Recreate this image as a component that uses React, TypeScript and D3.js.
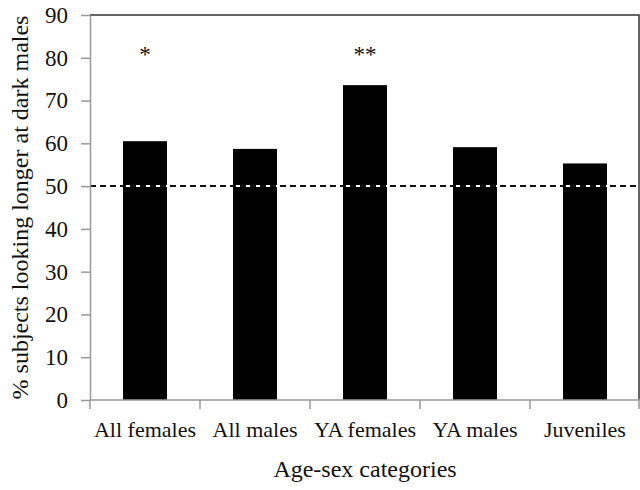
import React, { useEffect, useRef } from "react";
import * as d3 from "d3";

const categories = ["All females", "All males", "YA females", "YA males", "Juveniles"];
const percentLookingDark = [60.5, 58.7, 73.6, 59.1, 55.3];
const significance = ["*", "", "**", "", ""];
const yTicks = [0, 10, 20, 30, 40, 50, 60, 70, 80, 90];
const chanceLevel = 50;
const starLevel = 79;

const FONT = "\"Liberation Serif\", \"DejaVu Serif\", \"Noto Serif\", \"Times New Roman\", Times, serif";

export default function App() {
  const ref = useRef<SVGSVGElement>(null);

  useEffect(() => {
    const svg = d3.select(ref.current);
    svg.selectAll("*").remove();

    const width = 640;
    const height = 490;
    const margin = { top: 15, right: 0, bottom: 90, left: 90 };
    const innerW = width - margin.left - margin.right;
    const innerH = height - margin.top - margin.bottom;

    const x = d3.scaleBand().domain(categories).range([0, innerW]).paddingInner(0).paddingOuter(0);
    const y = d3.scaleLinear().domain([0, 90]).range([innerH, 0]);

    const g = svg.append("g").attr("transform", `translate(${margin.left},${margin.top})`);

    // bars, 40% of the band
    const barW = x.bandwidth() * 0.4;
    g.selectAll(".bar")
      .data(categories)
      .join("rect")
      .attr("class", "bar")
      .attr("x", (d) => x(d)! + (x.bandwidth() - barW) / 2)
      .attr("y", (d, i) => y(percentLookingDark[i]))
      .attr("width", barW)
      .attr("height", (d, i) => innerH - y(percentLookingDark[i]))
      .attr("fill", "#000");

    // chance line: white under black dashes so it shows on the bars too
    g.append("line")
      .attr("x1", 0)
      .attr("x2", innerW)
      .attr("y1", y(chanceLevel))
      .attr("y2", y(chanceLevel))
      .attr("stroke", "#fff")
      .attr("stroke-width", 2);
    g.append("line")
      .attr("x1", 0)
      .attr("x2", innerW)
      .attr("y1", y(chanceLevel))
      .attr("y2", y(chanceLevel))
      .attr("stroke", "#111")
      .attr("stroke-width", 2)
      .attr("stroke-dasharray", "6,4");

    // frame top + right
    g.append("path")
      .attr("d", `M0,${y(90)}H${innerW - 1}V${innerH}`)
      .attr("fill", "none")
      .attr("stroke", "#333")
      .attr("stroke-width", 1.5);

    // y axis
    const yAxis = g
      .append("g")
      .call(d3.axisLeft(y).tickValues(yTicks).tickSize(9).tickSizeOuter(0).tickPadding(13).tickFormat(d3.format("d")));
    yAxis.attr("font-family", null).attr("font-size", null);
    yAxis.select(".domain").attr("stroke", "#999").attr("stroke-width", 1.5);
    yAxis.selectAll(".tick line").attr("stroke", "#999").attr("stroke-width", 1.5);
    yAxis
      .selectAll(".tick text")
      .style("font-family", FONT)
      .style("font-size", "23px")
      .attr("fill", "#111");

    // x axis
    const xAxis = g.append("g").attr("transform", `translate(0,${innerH})`);
    xAxis
      .append("line")
      .attr("x1", 0)
      .attr("x2", innerW)
      .attr("stroke", "#999")
      .attr("stroke-width", 1.5);
    const bounds = [...categories.map((c) => x(c)!), innerW - 1];
    xAxis
      .selectAll(".xtick")
      .data(bounds)
      .join("line")
      .attr("class", "xtick")
      .attr("x1", (d) => d)
      .attr("x2", (d) => d)
      .attr("y1", 0)
      .attr("y2", 9)
      .attr("stroke", "#999")
      .attr("stroke-width", 1.5);
    xAxis
      .selectAll(".xlabel")
      .data(categories)
      .join("text")
      .attr("class", "xlabel")
      .attr("x", (d) => x(d)! + x.bandwidth() / 2)
      .attr("y", 37)
      .attr("text-anchor", "middle")
      .style("font-family", FONT)
      .style("font-size", "22px")
      .attr("fill", "#111")
      .text((d) => d);

    // significance stars
    g.selectAll(".star")
      .data(categories)
      .join("text")
      .attr("class", "star")
      .attr("x", (d) => x(d)! + x.bandwidth() / 2)
      .attr("y", y(starLevel))
      .attr("text-anchor", "middle")
      .style("font-family", FONT)
      .style("font-size", "23px")
      .attr("fill", "#111")
      .text((d, i) => significance[i]);

    // axis titles
    svg
      .append("text")
      .attr("x", margin.left + innerW / 2)
      .attr("y", 477)
      .attr("text-anchor", "middle")
      .style("font-family", FONT)
      .style("font-size", "24px")
      .attr("fill", "#111")
      .text("Age-sex categories");

    svg
      .append("text")
      .attr("transform", `translate(28,${margin.top + innerH / 2}) rotate(-90)`)
      .attr("text-anchor", "middle")
      .style("font-family", FONT)
      .style("font-size", "24px")
      .attr("fill", "#111")
      .text("% subjects looking longer at dark males");
  }, []);

  return (
    <div style={{ position: "absolute", left: 0, top: 0 }}>
      <svg ref={ref} width={640} height={490} style={{ display: "block", background: "#fff" }} />
    </div>
  );
}
